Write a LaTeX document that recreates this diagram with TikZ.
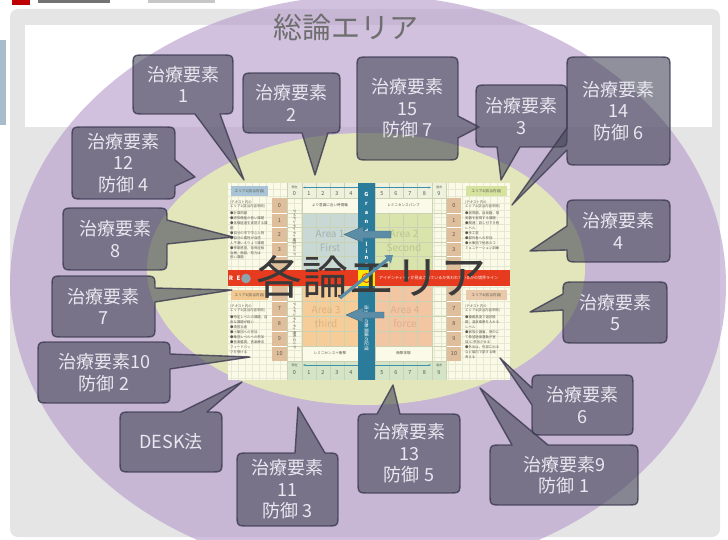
\documentclass[tikz,border=0pt]{standalone}
\usepackage{fontspec}
\setmainfont{Noto Sans CJK JP}
\usetikzlibrary{arrows.meta}
\definecolor{frameGray}{HTML}{E5E5E5}
\definecolor{stripBlue}{HTML}{A9BCCB}
\definecolor{lavFill}{HTML}{B59CCB}
\definecolor{paleGreen}{HTML}{E3E6BB}
\definecolor{callFill}{HTML}{45475A}
\definecolor{callLine}{HTML}{3B3950}
\definecolor{callText}{HTML}{E9E7EF}
\definecolor{chartBg}{HTML}{FBF9E8}
\definecolor{gridFaint}{HTML}{E6E9D2}
\definecolor{cellLine}{HTML}{CBD2B4}
\definecolor{numBrown}{HTML}{DFBE9C}
\definecolor{areaA}{HTML}{C7D8D5}
\definecolor{areaB}{HTML}{D9E4AC}
\definecolor{areaC}{HTML}{F6CD98}
\definecolor{areaD}{HTML}{F3C6A3}
\definecolor{grandBlue}{HTML}{2B7C9B}
\definecolor{redBand}{HTML}{E63B1E}
\definecolor{arrowBlue}{HTML}{5B8DA7}
\definecolor{hdrBlue}{HTML}{A8C4D6}
\definecolor{hdrGreen}{HTML}{D6E39F}
\definecolor{hdrOrange}{HTML}{F2C991}
\definecolor{hdrTan}{HTML}{E9C9AA}
\definecolor{hdrRowGreen}{HTML}{D3E4C7}
\definecolor{hdrRowTop}{HTML}{EEF2DC}
\definecolor{tealArrow}{HTML}{3D8FAE}
\definecolor{bigText}{HTML}{3A3A3A}
\definecolor{titleGray}{HTML}{6E6E6E}
\definecolor{tinyText}{HTML}{5A5A50}
\definecolor{areaTxtA}{HTML}{A3B3B2}
\definecolor{areaTxtB}{HTML}{BCC78E}
\definecolor{areaTxtC}{HTML}{DDB27E}
\definecolor{areaTxtD}{HTML}{DDAE8E}
\definecolor{dotGray}{HTML}{8FA3AD}

\newcommand\bubr{12}
% pointer on bottom edge: x1 y1 x2 y2 bx1 bx2 tx ty
\newcommand\calloutB[8]{\path[callout] (#1+\bubr,#2) -- (#3-\bubr,#2) .. controls (#3,#2) .. (#3,#2+\bubr) -- (#3,#4-\bubr) .. controls (#3,#4) .. (#3-\bubr,#4) -- (#6,#4) -- (#7,#8) -- (#5,#4) -- (#1+\bubr,#4) .. controls (#1,#4) .. (#1,#4-\bubr) -- (#1,#2+\bubr) .. controls (#1,#2) .. (#1+\bubr,#2) -- cycle;}
% pointer on top edge
\newcommand\calloutT[8]{\path[callout] (#1+\bubr,#2) -- (#5,#2) -- (#7,#8) -- (#6,#2) -- (#3-\bubr,#2) .. controls (#3,#2) .. (#3,#2+\bubr) -- (#3,#4-\bubr) .. controls (#3,#4) .. (#3-\bubr,#4) -- (#1+\bubr,#4) .. controls (#1,#4) .. (#1,#4-\bubr) -- (#1,#2+\bubr) .. controls (#1,#2) .. (#1+\bubr,#2) -- cycle;}
% pointer on right edge: by1 by2
\newcommand\calloutR[8]{\path[callout] (#1+\bubr,#2) -- (#3-\bubr,#2) .. controls (#3,#2) .. (#3,#2+\bubr) -- (#3,#5) -- (#7,#8) -- (#3,#6) -- (#3,#4-\bubr) .. controls (#3,#4) .. (#3-\bubr,#4) -- (#1+\bubr,#4) .. controls (#1,#4) .. (#1,#4-\bubr) -- (#1,#2+\bubr) .. controls (#1,#2) .. (#1+\bubr,#2) -- cycle;}
% pointer on left edge: by1 by2
\newcommand\calloutL[8]{\path[callout] (#1+\bubr,#2) -- (#3-\bubr,#2) .. controls (#3,#2) .. (#3,#2+\bubr) -- (#3,#4-\bubr) .. controls (#3,#4) .. (#3-\bubr,#4) -- (#1+\bubr,#4) .. controls (#1,#4) .. (#1,#4-\bubr) -- (#1,#6) -- (#7,#8) -- (#1,#5) -- (#1,#2+\bubr) .. controls (#1,#2) .. (#1+\bubr,#2) -- cycle;}

\begin{document}
\begin{tikzpicture}[x=1pt,y=-1pt,
  callout/.style={fill=callFill, fill opacity=0.6, draw=callLine, draw opacity=0.8, line width=1.4pt, line join=round},
  ctext/.style={text=callText, font=\fontsize{18}{21.5}\selectfont, align=center, inner sep=0pt},
  paneltext/.style={text=tinyText, font=\fontsize{3.4}{4.9}\selectfont, align=left, inner sep=0pt, anchor=north west},
  hdrtext/.style={text=tinyText, font=\fontsize{3.6}{4}\selectfont, inner sep=0pt},
  smalltext/.style={text=tinyText, font=\fontsize{3}{3.5}\selectfont, inner sep=0pt},
  num/.style={text=tinyText, font=\fontsize{5.5}{6}\selectfont, inner sep=0pt},
  areatext/.style={font=\fontsize{10}{13.5}\selectfont, inner sep=0pt, align=center},
  gltext/.style={text=white, font=\bfseries\fontsize{5.5}{6}\selectfont, inner sep=0pt},
  blockarrow/.style={fill=arrowBlue, draw=arrowBlue!75!black, line width=0.4pt},
  cellgrid/.style={draw=cellLine, line width=0.4pt},
]
\useasboundingbox (0,0) rectangle (728,540);
\begin{scope}
\clip (0,0) rectangle (728,540);
% background and frame
\fill[white] (0,0) rectangle (728,540);
\fill[frameGray, rounded corners=8pt] (10,9) rectangle (720,537);
\fill[white] (25,25) rectangle (712,127);
\fill[stripBlue] (0,40) rectangle (6,125);
\fill[red!75!black] (12,0) rectangle (30,5);
\fill[black!55] (38,0) rectangle (110,3.5);
\fill[black!22] (148,0) rectangle (215,3);
% big ellipses
\fill[lavFill, fill opacity=0.62] (368,285) ellipse [x radius=358pt, y radius=290pt];
\fill[paleGreen] (366,269) ellipse [x radius=219pt, y radius=136pt];

% ---------------- chart ----------------
\fill[chartBg] (228,183) rectangle (510,380);
\draw[gridFaint, line width=0.3pt, step=7pt] (228,183) grid (510,380);
% header rows
\fill[hdrRowTop] (287,183) rectangle (446,198);
\fill[hdrRowGreen] (287,361) rectangle (446,380);
% row 0 and row 10 cells
\fill[chartBg] (302,198) rectangle (432,213);
\fill[chartBg] (302,346) rectangle (432,361);
% areas
\fill[areaA] (302,213) rectangle (358,271);
\fill[areaB] (375,213) rectangle (432,271);
\fill[areaC] (302,286) rectangle (358,346);
\fill[areaD] (375,286) rectangle (432,346);
% cell grid
\foreach \xx in {302,316,330,344,358,375,389,403,417,432} {
  \draw[cellgrid] (\xx,183) -- (\xx,198);
  \draw[cellgrid] (\xx,213) -- (\xx,271);
  \draw[cellgrid] (\xx,286) -- (\xx,346);
  \draw[cellgrid] (\xx,361) -- (\xx,380);
}
\foreach \xx in {287,302,358,375,432,446} {
  \draw[cellgrid] (\xx,183) -- (\xx,380);
}
\foreach \yy in {198,213,227.5,242,256.5,271,286,301,316,331,346,361} {
  \draw[cellgrid] (287,\yy) -- (446,\yy);
}
% number columns
\fill[numBrown] (272,198) rectangle (287,271);
\fill[numBrown] (272,286) rectangle (287,361);
\fill[numBrown] (447,198) rectangle (461,271);
\fill[numBrown] (447,286) rectangle (461,361);
\foreach \yy in {213,227.5,242,256.5,301,316,331,346} {
  \draw[white, line width=0.8pt] (272,\yy) -- (287,\yy);
  \draw[white, line width=0.8pt] (447,\yy) -- (461,\yy);
}
\foreach \n/\yy in {0/205.5,1/220.25,2/234.75,3/249.25,7/308.5,8/323.5,9/338.5,10/353.5} {
  \node[num] at (279.5,\yy) {\n};
}
\foreach \n/\yy in {0/205.5,1/220.25,2/234.75,3/249.25,4/263.75,6/293.5,7/308.5,8/323.5,9/338.5,10/353.5} {
  \node[num] at (454,\yy) {\n};
}
% header labels
\draw[tealArrow, line width=0.6pt, {Stealth[length=2.5pt]}-{Stealth[length=2.5pt]}] (303,187.5) -- (431,187.5);
\draw[tealArrow, line width=0.6pt, {Stealth[length=2.5pt]}-{Stealth[length=2.5pt]}] (303,365) -- (431,365);
\node[smalltext] at (294.5,187.5) {現在};
\node[smalltext] at (439,187.5) {過去};
\node[smalltext] at (294.5,365) {現在};
\node[smalltext] at (439,365) {過去};
\foreach \n/\xx in {0/294.5,1/309,2/323,3/337,4/351,5/382,6/396,7/410,8/424.5,9/439} {
  \node[num] at (\xx,194) {\n};
  \node[num] at (\xx,373) {\n};
}
% row labels
\node[hdrtext] at (330,205.5) {より意識に近い時間軸};
\node[hdrtext] at (403.5,205.5) {レミニセンスバンプ};
\node[hdrtext] at (330,353.5) {レミニセンス＋衝撃};
\node[hdrtext] at (403.5,353.5) {衝撃体験};
\node[hdrtext, rotate=-90] at (294.5,233) {アイデンティティ確立エリア};
\node[hdrtext, rotate=-90] at (294.5,326) {アイデンティティ喪失エリア};
% area texts
\node[areatext, text=areaTxtA] (area1) at (330,241) {Area 1\\First};
\node[areatext, text=areaTxtB] (area2) at (404,241) {Area 2\\Second};
\node[areatext, text=areaTxtC] (area3) at (326,317) {Area 3\\third};
\node[areatext, text=areaTxtD] (area4) at (405,317) {Area 4\\force};
% side panels
\fill[hdrBlue] (231,186) rectangle (268,196);
\node[hdrtext] at (249.5,191) {エリア1(該当内容)};
\fill[hdrOrange] (231,290) rectangle (268,300);
\node[hdrtext] at (249.5,295) {エリア3(該当内容)};
\fill[hdrGreen] (466,186) rectangle (507,196);
\node[hdrtext] at (486.5,191) {エリア2(該当内容)};
\fill[hdrTan] (466,290) rectangle (507,300);
\node[hdrtext] at (486.5,295) {エリア4(該当内容)};
\node[paneltext] at (230,200) {(テキスト内の\\エリア1(該当内容参照)\\[2pt]●計算問題\\●認知機能の低い課題\\●体験経過を実現する課\\題\\●自分の中で中心人物\\●自分の属性が自信\\ん不満いえりょう課題\\●季節感覚，背骨症候\\治療，面談，努力は\\低い課題};
\node[paneltext] at (230,304) {(テキスト内の\\エリア3(該当内容参照)\\[2pt]●特定レベルの課題，自\\由な課題が軽い\\●現担当者\\●小集団への参加\\●集団レベルへの参加\\●音楽鑑賞，音楽療法\\フィードバッ\\クを受ける};
\node[paneltext] at (465,200) {(テキスト内の\\エリア2(該当内容参照)\\[2pt]●測問題，自我籍，現\\実籍を実現する課題\\●関連：認し付でき程\\レベル\\●手工芸\\●部外者への参加\\●大集団で他者のコ\\ミュニケーション訓練};
\node[paneltext] at (465,304) {(テキスト内の\\エリア4(該当内容参照)\\[2pt]●複雑高度で選択肢\\題，温泉風景を入れる\\レベル\\●家族介護面，熱中に\\て希望適度運動(P室\\目)に参加させる\\●外出は，外部に出る\\など脳内で説する機\\考える};
% grand line
\fill[grandBlue] (358,183) rectangle (375,380);
\foreach \ch/\yy in {G/194,r/204,a/213,n/222,d/231,l/244,i/251,n/258,e/265} {
  \node[gltext] at (366.5,\yy) {\ch};
}
\node[text=white, font=\fontsize{4.5}{5}\selectfont, inner sep=0pt, rotate=-90] at (366.5,328) {過去への無意識の記憶};
% red line band
\fill[redBand] (228,270) rectangle (510,286);
\fill[yellow!90!orange] (358,270) rectangle (375,286);
\draw[redBand, line width=0.9pt] (366.5,278) circle (4.5pt);
\foreach \ch/\xx in {R/231,E/238.5} {
  \node[gltext, font=\bfseries\fontsize{6}{6}\selectfont] at (\xx,278) {\ch};
}
\fill[dotGray] (246,278.5) circle (4.8pt);
\node[text=white, font=\fontsize{4}{4}\selectfont, inner sep=0pt, anchor=west] at (379,278) {アイデンティティが見出されているか失われているかの境界ライン};
% block arrows
\draw[blockarrow] (391,231) -- (363,231) -- (363,226.5) -- (344,234.5) -- (363,242.5) -- (363,238) -- (391,238) -- cycle;
\draw[blockarrow] (384,312) -- (363,312) -- (363,307.5) -- (346,315) -- (363,322.5) -- (363,318) -- (384,318) -- cycle;
% big label
\node[font=\fontsize{46}{50}\selectfont, text=bigText, anchor=west, inner sep=0pt] (kakuron) at (256,277) {各論エリア};
\coordinate (diagS) at (340,298);
\coordinate (diagE) at (393,255);
\draw[arrowBlue, line width=3.2pt, -{Triangle[length=7pt,width=10pt]}] (diagS) -- (diagE);
% title
\node[font=\fontsize{29}{32}\selectfont, text=titleGray, inner sep=0pt] (soron) at (346,27) {総論エリア};

% ---------------- callouts ----------------
\calloutB{133}{55}{233}{114}{195}{220}{244}{180}
\node[ctext] (t1) at (183,84.5) {治療要素\\1};
\calloutB{243}{73}{340}{133}{302}{328}{315}{175}
\node[ctext] (t2) at (291.5,103) {治療要素\\2};
\calloutR{357}{57}{458}{160}{116}{138}{479}{127}
\node[ctext] (t15) at (407.5,108.5) {治療要素\\15\\防御 7};
\calloutB{476}{85}{567}{147}{497}{520}{501}{180}
\node[ctext] (t3) at (521.5,116) {治療要素\\3};
\calloutL{567}{57}{670}{165}{128}{150}{512}{205}
\node[ctext] (t14) at (618.5,111) {治療要素\\14\\防御 6};
\calloutL{567}{200}{670}{262}{226}{250}{530}{251}
\node[ctext] (t4) at (618.5,231) {治療要素\\4};
\calloutL{563}{282}{667}{343}{294}{310}{530}{312}
\node[ctext] (t5) at (615,312.5) {治療要素\\5};
\calloutL{532}{375}{633}{435}{388}{405}{500}{358}
\node[ctext] (t6) at (582.5,405) {治療要素\\6};
\calloutT{490}{445}{638}{505}{512}{548}{480}{388}
\node[ctext] (t9) at (564,475) {治療要素9\\防御 1};
\calloutT{358}{414}{460}{493}{377}{400}{393}{385}
\node[ctext] (t13) at (409,453.5) {治療要素\\13\\防御 5};
\calloutT{237}{453}{338}{526}{295}{325}{298}{407}
\node[ctext] (t11) at (287.5,489.5) {治療要素\\11\\防御 3};
\calloutT{120}{412}{222}{472}{181}{207}{242}{382}
\node[ctext] (tdesk) at (171,442) {DESK法};
\calloutR{38}{342}{170}{403}{354}{369}{250}{357}
\node[ctext] (t10) at (104,372.5) {治療要素10\\防御 2};
\calloutR{52}{276}{155}{337}{288}{302}{232}{290}
\node[ctext] (t7) at (103.5,306.5) {治療要素\\7};
\calloutR{63}{208}{167}{270}{220}{244}{233}{237}
\node[ctext] (t8) at (115,239) {治療要素\\8};
\calloutR{72}{127}{175}{199}{160}{186}{195}{177}
\node[ctext] (t12) at (123.5,163) {治療要素\\12\\防御 4};
\end{scope}
\end{tikzpicture}
\end{document}
